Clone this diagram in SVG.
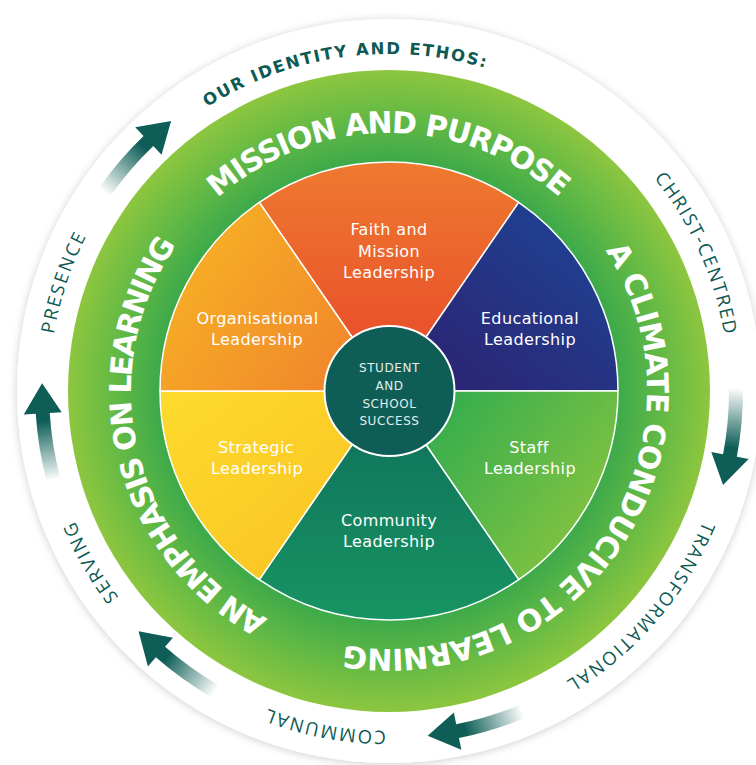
<svg xmlns="http://www.w3.org/2000/svg" width="756" height="765" viewBox="0 0 756 765">
<style>
.ring-txt{font-family:"DejaVu Sans","Liberation Sans",sans-serif;font-weight:bold;font-size:30px;fill:#ffffff}
.outer-txt{font-family:"Open Sans","Noto Sans",sans-serif;font-weight:normal;font-size:18.5px;fill:#0D5A54}
.ethos-txt{font-family:"DejaVu Sans","Liberation Sans",sans-serif;font-weight:bold;font-size:16.5px;fill:#0D5A54}
.lbl{font-family:"DejaVu Sans","Liberation Sans",sans-serif;font-size:16px;fill:#ffffff;text-anchor:middle;letter-spacing:0.4px}
.ctr{font-family:"DejaVu Sans","Liberation Sans",sans-serif;font-size:12px;fill:#E3EEEB;text-anchor:middle;letter-spacing:0.6px}
.sector{stroke:#ffffff;stroke-width:1.5;stroke-linejoin:round}
</style>
<defs>
<filter id="shadow" x="-10%" y="-10%" width="120%" height="120%">
<feDropShadow dx="0" dy="1" stdDeviation="4" flood-color="#000000" flood-opacity="0.2"/>
</filter>
<radialGradient id="ringGrad" gradientUnits="userSpaceOnUse" cx="389" cy="391" r="321">
<stop offset="0.71" stop-color="#3CA94A"/>
<stop offset="0.85" stop-color="#62B945"/>
<stop offset="1" stop-color="#8DC63F"/>
</radialGradient>
<linearGradient id="faithGrad" x1="0" y1="0" x2="0" y2="1">
<stop offset="0" stop-color="#EE7A2F"/><stop offset="1" stop-color="#E8452A"/>
</linearGradient>
<linearGradient id="orgGrad" x1="0" y1="0.2" x2="1" y2="0.8">
<stop offset="0" stop-color="#F7B424"/><stop offset="1" stop-color="#F0822C"/>
</linearGradient>
<linearGradient id="eduGrad" x1="1" y1="0" x2="0" y2="1">
<stop offset="0" stop-color="#1E4798"/><stop offset="1" stop-color="#2D1F6E"/>
</linearGradient>
<linearGradient id="stratGrad" x1="0" y1="0" x2="1" y2="1">
<stop offset="0" stop-color="#FDDB2D"/><stop offset="1" stop-color="#F9C022"/>
</linearGradient>
<linearGradient id="staffGrad" x1="0" y1="0.2" x2="1" y2="0.8">
<stop offset="0" stop-color="#2BAA4F"/><stop offset="1" stop-color="#8CC63F"/>
</linearGradient>
<linearGradient id="commGrad" x1="0" y1="0" x2="0" y2="1">
<stop offset="0" stop-color="#0F6E59"/><stop offset="1" stop-color="#179463"/>
</linearGradient>
<linearGradient id="arrowGrad" gradientUnits="userSpaceOnUse" x1="333" y1="-97" x2="345" y2="-38">
<stop offset="0" stop-color="#0E5E57" stop-opacity="0"/>
<stop offset="1" stop-color="#0E5E57"/>
</linearGradient>
<path id="arrow" fill="url(#arrowGrad)" d="M326.83,-93.72 A340,340 0 0 1 338.70,-29.63 L326.75,-28.59 L347,0 L364.61,-31.90 L352.65,-30.85 A354,354 0 0 0 340.29,-97.58 Z"/>
<path id="p-mission" d="M217.7,198.1 A258,258 0 0 1 559.3,197.2"/>
<path id="p-climate" d="M605.4,250.5 A258,258 0 0 1 344.2,645.1"/>
<path id="p-emph" d="M267.9,618.8 A258,258 0 0 1 176.4,244.9"/>
<path id="p-ethos" d="M207.4,107.1 A337,337 0 0 1 484.7,67.9"/>
<path id="p-christ" d="M654.0,178.0 A340,340 0 0 1 724.2,334.3"/>
<path id="p-trans" d="M703.1,521.1 A340,340 0 0 1 566.1,681.2"/>
<path id="p-comm" d="M386.0,731.0 A340,340 0 0 1 268.3,708.8"/>
<path id="p-serv" d="M118.9,597.5 A340,340 0 0 1 74.9,521.1"/>
<path id="p-pres" d="M53.8,334.3 A340,340 0 0 1 86.1,236.6"/>
</defs>

<g id="outer-disc">
<circle cx="389" cy="391" r="372" fill="#ffffff" filter="url(#shadow)"/>
</g>

<g id="outer-words">
<text class="ethos-txt"><textPath href="#p-ethos" textLength="288.8" lengthAdjust="spacing">OUR IDENTITY AND ETHOS:</textPath></text>
<text class="outer-txt"><textPath href="#p-christ" textLength="173.3" lengthAdjust="spacing">CHRIST-CENTRED</textPath></text>
<text class="outer-txt"><textPath href="#p-trans" textLength="214.2" lengthAdjust="spacing">TRANSFORMATIONAL</textPath></text>
<text class="outer-txt"><textPath href="#p-comm" textLength="120.5" lengthAdjust="spacing">COMMUNAL</textPath></text>
<text class="outer-txt"><textPath href="#p-serv" textLength="88.4" lengthAdjust="spacing">SERVING</textPath></text>
<text class="outer-txt"><textPath href="#p-pres" textLength="103.3" lengthAdjust="spacing">PRESENCE</textPath></text>
</g>

<g id="connectors">
<use href="#arrow" transform="translate(389,391) rotate(-128.9)"/>
<use href="#arrow" transform="translate(389,391) rotate(-178.7)"/>
<use href="#arrow" transform="translate(389,391) rotate(136.2)"/>
<use href="#arrow" transform="translate(389,391) rotate(83.6)"/>
<use href="#arrow" transform="translate(389,391) rotate(15.7)"/>
</g>

<g id="green-ring">
<circle cx="389" cy="391" r="321" fill="url(#ringGrad)"/>
<text class="ring-txt"><textPath href="#p-mission" textLength="373.3" lengthAdjust="spacing">MISSION AND PURPOSE</textPath></text>
<text class="ring-txt"><textPath href="#p-climate" textLength="598.9" lengthAdjust="spacing">A CLIMATE CONDUCIVE TO LEARNING</textPath></text>
<text class="ring-txt"><textPath href="#p-emph" textLength="434.5" lengthAdjust="spacing">AN EMPHASIS ON LEARNING</textPath></text>
</g>

<g id="faith">
<path class="sector" fill="url(#faithGrad)" d="M389,391 L259.3,202.3 A229,229 0 0 1 518.7,202.3 Z"/>
<text class="lbl" x="389" y="235">Faith and</text>
<text class="lbl" x="389" y="257">Mission</text>
<text class="lbl" x="389" y="278">Leadership</text>
</g>
<g id="educational">
<path class="sector" fill="url(#eduGrad)" d="M389,391 L518.7,202.3 A229,229 0 0 1 618,391 Z"/>
<text class="lbl" x="530" y="324">Educational</text>
<text class="lbl" x="530" y="345">Leadership</text>
</g>
<g id="staff">
<path class="sector" fill="url(#staffGrad)" d="M389,391 L618,391 A229,229 0 0 1 518.7,579.7 Z"/>
<text class="lbl" x="529" y="453">Staff</text>
<text class="lbl" x="530" y="474">Leadership</text>
</g>
<g id="community">
<path class="sector" fill="url(#commGrad)" d="M389,391 L518.7,579.7 A229,229 0 0 1 259.3,579.7 Z"/>
<text class="lbl" x="389" y="526">Community</text>
<text class="lbl" x="389" y="547">Leadership</text>
</g>
<g id="strategic">
<path class="sector" fill="url(#stratGrad)" d="M389,391 L259.3,579.7 A229,229 0 0 1 160,391 Z"/>
<text class="lbl" x="256" y="453">Strategic</text>
<text class="lbl" x="257" y="474">Leadership</text>
</g>
<g id="organisational">
<path class="sector" fill="url(#orgGrad)" d="M389,391 L160,391 A229,229 0 0 1 259.3,202.3 Z"/>
<text class="lbl" x="257.5" y="324">Organisational</text>
<text class="lbl" x="257" y="345">Leadership</text>
</g>

<g id="center">
<circle cx="389.5" cy="391" r="65" fill="#0E5E57" stroke="#ffffff" stroke-width="2"/>
<text class="ctr" x="389.5" y="372">STUDENT</text>
<text class="ctr" x="389.5" y="389.5">AND</text>
<text class="ctr" x="389.5" y="407.5">SCHOOL</text>
<text class="ctr" x="389.5" y="425">SUCCESS</text>
</g>
</svg>
